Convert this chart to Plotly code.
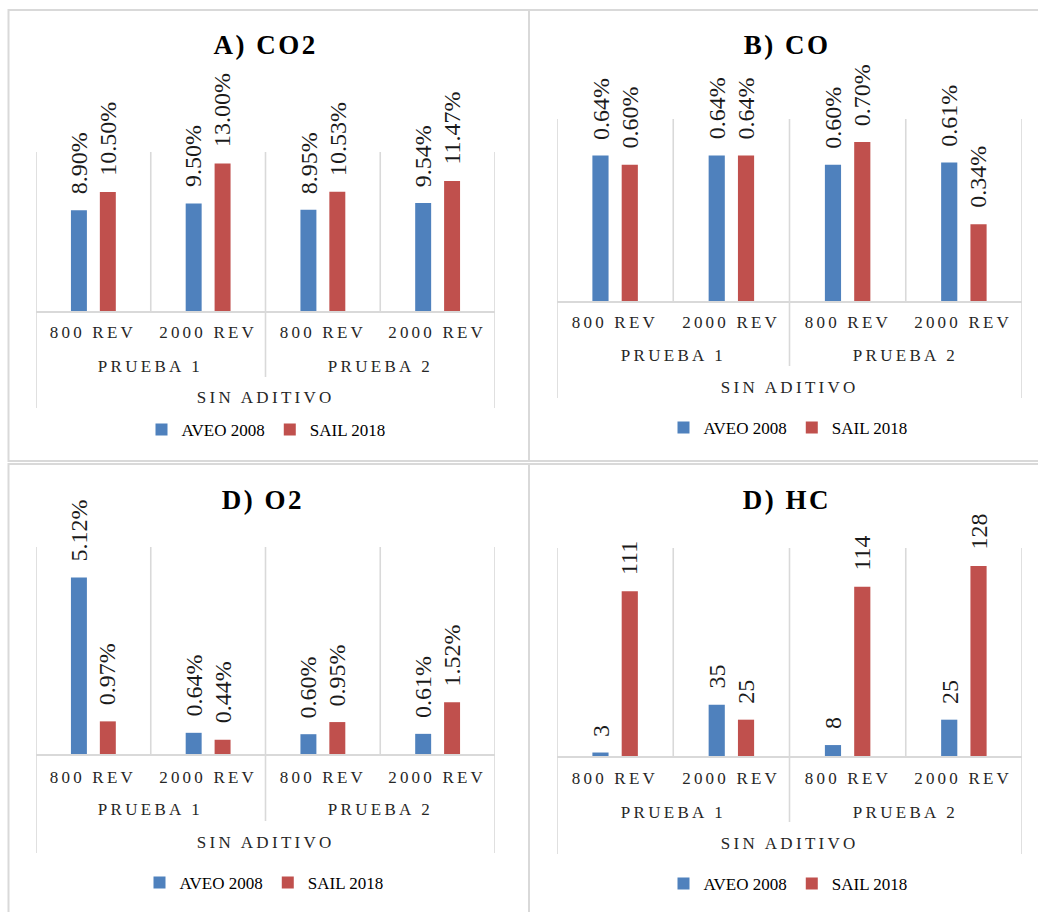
import plotly.graph_objects as go

# ---------------- data ----------------
categories = ["800 REV", "2000 REV", "800 REV", "2000 REV"]
pruebas = ["PRUEBA 1", "PRUEBA 2"]
group_label = "SIN ADITIVO"
series_names = ["AVEO 2008", "SAIL 2018"]

co2_aveo = [8.90, 9.50, 8.95, 9.54]
co2_sail = [10.50, 13.00, 10.53, 11.47]
co_aveo = [0.64, 0.64, 0.60, 0.61]
co_sail = [0.60, 0.64, 0.70, 0.34]
o2_aveo = [5.12, 0.64, 0.60, 0.61]
o2_sail = [0.97, 0.44, 0.95, 1.52]
hc_aveo = [3, 35, 8, 25]
hc_sail = [111, 25, 114, 128]

titles = ["A) CO2", "B) CO", "D) O2", "D) HC"]

# ---------------- styles / layout ----------------
W, H = 1038, 912
SERIF = "Liberation Serif"
series_colors = ["#4F81BD", "#C0504D"]
GRID = "#D9D9D9"
BARGAP = 0.496
BARGROUPGAP = 0.448

panels = [
    dict(title=titles[0], data=(co2_aveo, co2_sail), fmt="{:.2f}%", ymax=14,
         plot=(36, 495, 152, 312), title_xy=(265, 45), legend_xy=(266, 430),
         frame=(8.5, 529, 10, 461), rows=(20, 54, 85), ext=(65, 96)),
    dict(title=titles[1], data=(co_aveo, co_sail), fmt="{:.2f}%", ymax=0.8,
         plot=(557, 1022, 119, 302), title_xy=(787, 45), legend_xy=(788, 428),
         frame=(529, 1045, 10, 461), rows=(20, 53, 85), ext=(64, 96)),
    dict(title=titles[2], data=(o2_aveo, o2_sail), fmt="{:.2f}%", ymax=6,
         plot=(36, 495, 547, 755), title_xy=(263, 500), legend_xy=(264, 883),
         frame=(8.5, 529, 464, 920), rows=(22, 54, 87), ext=(66, 98)),
    dict(title=titles[3], data=(hc_aveo, hc_sail), fmt="{:.0f}", ymax=140,
         plot=(557, 1022, 548, 757), title_xy=(787, 500), legend_xy=(788, 884),
         frame=(529, 1045, 464, 920), rows=(21, 55, 86), ext=(65, 97)),
]


def px(x):
    return x / W


def py(y):
    return 1 - y / H


fig = go.Figure()
shapes = []
annotations = []
layout = {}

xs = list(range(len(categories)))
half_slot = (1 - BARGAP) / 4.0

for k, p in enumerate(panels):
    n = "" if k == 0 else str(k + 1)
    xa, ya = "x" + n, "y" + n
    leg = "legend" + n
    x0, x1, y0, y1 = p["plot"]
    plot_h = y1 - y0

    for s, (name, vals) in enumerate(zip(series_names, p["data"])):
        fig.add_trace(go.Bar(
            x=xs, y=vals, name=name, xaxis=xa, yaxis=ya, legend=leg,
            marker=dict(color=series_colors[s], line=dict(width=0)),
            hoverinfo="x+y+name",
        ))
        # data labels above bars
        for i, v in zip(xs, vals):
            annotations.append(dict(
                x=i + (-half_slot if s == 0 else half_slot), y=v,
                xref=xa, yref=ya, text=p["fmt"].format(v), showarrow=False,
                textangle=-90, xanchor="center", yanchor="bottom", yshift=14,
                font=dict(family=SERIF, size=24, color="#1a1a1a"),
            ))

    layout["xaxis" + n] = dict(domain=[px(x0), px(x1)], range=[-0.5, len(xs) - 0.5],
                               visible=False, anchor=ya, fixedrange=True)
    layout["yaxis" + n] = dict(domain=[py(y1), py(y0)], range=[0, p["ymax"]],
                               visible=False, anchor=xa, fixedrange=True)

    # plot-area separators and baseline
    lw = 1.6
    shapes.append(dict(type="line", xref=xa, yref=ya + " domain", x0=-0.5, x1=len(xs) - 0.5,
                       y0=0, y1=0, line=dict(color=GRID, width=2)))
    for b in range(len(xs) + 1):
        xb = b - 0.5
        shapes.append(dict(type="line", xref=xa, yref=ya + " domain", x0=xb, x1=xb,
                           y0=0, y1=1, line=dict(color=GRID, width=lw)))
    # label-area separators
    mid, outer = p["ext"]
    for xb, ext in ((-0.5, outer), (len(xs) / 2 - 0.5, mid), (len(xs) - 0.5, outer)):
        shapes.append(dict(type="line", xref=xa, yref=ya + " domain", x0=xb, x1=xb,
                           y0=0, y1=-ext / plot_h, line=dict(color=GRID, width=lw)))

    # hierarchical category labels
    r1, r2, r3 = p["rows"]
    lab_font = dict(family=SERIF, size=17, color="#262626")
    for i, c in zip(xs, categories):
        annotations.append(dict(x=i, y=0, xref=xa, yref=ya + " domain", text=c,
                                showarrow=False, yanchor="middle", yshift=-r1, font=lab_font))
    per = len(xs) // len(pruebas)
    for g, pr in enumerate(pruebas):
        xc = sum(xs[g * per:(g + 1) * per]) / per
        annotations.append(dict(x=xc, y=0, xref=xa, yref=ya + " domain", text=pr,
                                showarrow=False, yanchor="middle", yshift=-r2, font=lab_font))
    annotations.append(dict(x=sum(xs) / len(xs), y=0, xref=xa, yref=ya + " domain",
                            text=group_label, showarrow=False, yanchor="middle",
                            yshift=-r3, font=lab_font))

    # title
    tx, ty = p["title_xy"]
    annotations.append(dict(x=px(tx), y=py(ty), xref="paper", yref="paper", text=p["title"],
                            showarrow=False, xanchor="center", yanchor="middle",
                            font=dict(family=SERIF, size=27, color="#000000", weight="bold")))

    # legend
    lx, ly = p["legend_xy"]
    layout[leg] = dict(x=px(lx), y=py(ly), xanchor="center", yanchor="middle",
                       orientation="h", bgcolor="rgba(0,0,0,0)", itemwidth=30,
                       font=dict(family=SERIF, size=17, color="#000000"),
                       traceorder="normal")

    # panel frame
    fx0, fx1, fy0, fy1 = p["frame"]
    shapes.append(dict(type="rect", xref="paper", yref="paper", x0=px(fx0), x1=px(fx1),
                       y0=py(fy1), y1=py(fy0), line=dict(color=GRID, width=2),
                       fillcolor="rgba(0,0,0,0)", layer="below"))

fig.update_layout(
    width=W, height=H, margin=dict(l=0, r=0, t=0, b=0, pad=0),
    paper_bgcolor="white", plot_bgcolor="white",
    barmode="group", bargap=BARGAP, bargroupgap=BARGROUPGAP,
    shapes=shapes, annotations=annotations, showlegend=True,
    **layout,
)

spacing_js = """
document.body.style.margin = '0';
document.body.style.padding = '0';
var gd = document.getElementById('{plot_id}');
var sp = {"800 REV": "3.2px", "2000 REV": "3.2px", "PRUEBA 1": "3.3px", "PRUEBA 2": "3.3px",
          "SIN ADITIVO": "3.3px", "A) CO2": "2.5px", "B) CO": "2.5px", "D) O2": "2.5px", "D) HC": "2.5px"};
function applySp() {
  gd.querySelectorAll('text').forEach(function (t) {
    var s = t.textContent;
    if (Object.prototype.hasOwnProperty.call(sp, s)) { t.style.letterSpacing = sp[s]; }
  });
}
applySp();
gd.on('plotly_afterplot', applySp);
"""

fig.write_html("out.html", post_script=spacing_js, config={"displayModeBar": False})
